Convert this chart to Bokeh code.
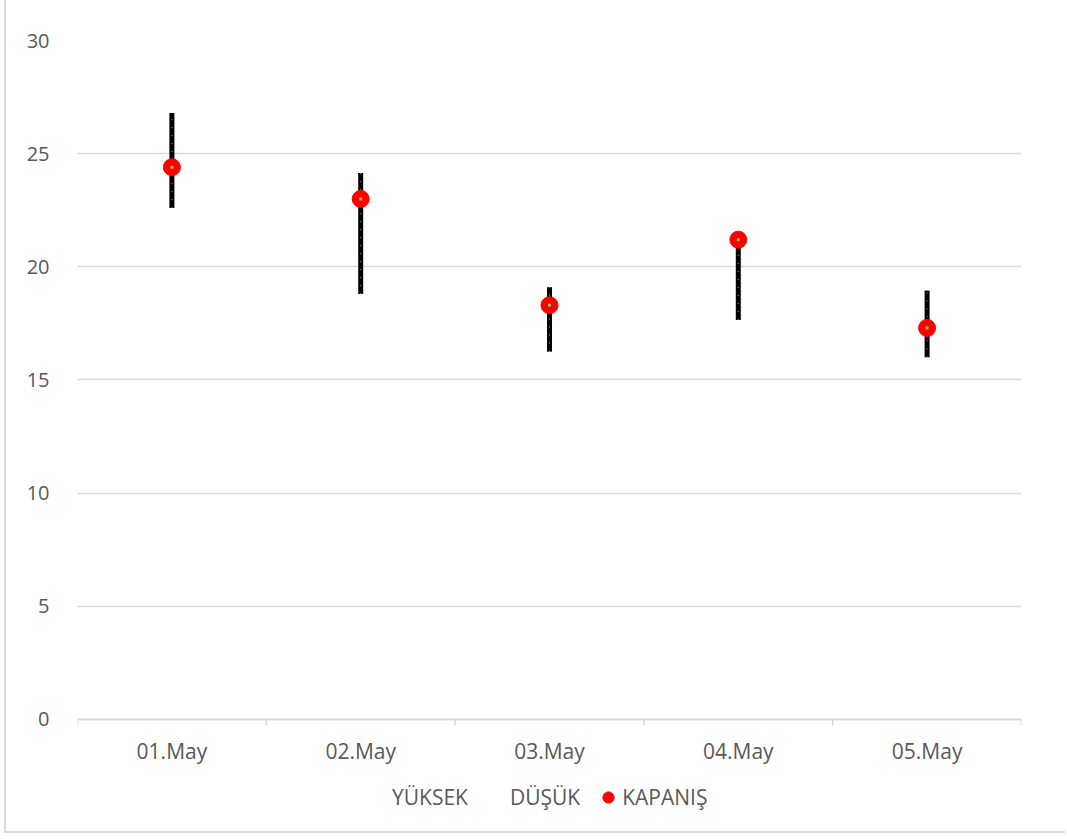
from bokeh.plotting import figure
from bokeh.models import (ColumnDataSource, FixedTicker, Legend, LegendItem,
                          Span)
from bokeh.core.properties import value
from bokeh.embed import file_html
from bokeh.resources import INLINE

# Daily high / low / close values
dates = ["01.May", "02.May", "03.May", "04.May", "05.May"]
high = [26.8, 24.15, 19.1, 21.2, 18.95]
low = [22.6, 18.8, 16.25, 17.65, 16.0]
close = [24.4, 23.0, 18.3, 21.2, 17.3]

y_ticks = [0, 5, 10, 15, 20, 25, 30]

FONT = "Open Sans"
TEXT = "#595959"
GRID = "#d9d9d9"

n = len(dates)
xs = [i + 0.5 for i in range(n)]
src = ColumnDataSource(dict(x=xs, date=dates, high=high, low=low, close=close))

# the plotting area reaches below zero so the category labels and the
# legend can sit underneath the value axis
y_bottom = -5.04
p = figure(width=1061, height=833, x_range=(0, n), y_range=(y_bottom, 30),
           output_backend="svg", toolbar_location=None, x_axis_location=None,
           min_border_left=71, min_border_right=46, min_border_top=40,
           min_border_bottom=0)
p.outline_line_color = None
p.background_fill_color = "white"
p.border_fill_color = "white"
p.margin = (0, 0, 0, 4)
p.styles = {"border-left": "2px solid #d9d9d9",
            "border-bottom": "2px solid #d9d9d9"}

# y axis: labels only, light horizontal gridlines
p.yaxis.ticker = FixedTicker(ticks=y_ticks)
p.yaxis.axis_line_color = None
p.yaxis.major_tick_line_color = None
p.yaxis.minor_tick_line_color = None
p.yaxis.major_label_standoff = 22
p.yaxis.major_label_text_font = FONT
p.yaxis.major_label_text_font_size = "20px"
p.yaxis.major_label_text_color = TEXT
p.ygrid.ticker = FixedTicker(ticks=y_ticks)
p.ygrid.grid_line_color = GRID
p.ygrid.grid_line_width = 1.5
p.xgrid.grid_line_color = None

# category axis: baseline at zero, boundary tick marks, centred labels
p.add_layout(Span(location=0, dimension="width", line_color=GRID,
                  line_width=1.5))
bounds = list(range(n + 1))
tick_len = 0.27
p.segment(x0=bounds, y0=[0] * len(bounds), x1=bounds,
          y1=[-tick_len] * len(bounds), line_color=GRID, line_width=1.5)
p.text(x="x", y=0, text="date", source=src, y_offset=32,
       text_align="center", text_baseline="middle",
       text_font=value(FONT), text_font_size="21px", text_color=TEXT)

# high-low bars
p.segment(x0="x", y0="low", x1="x", y1="high", source=src,
          line_color="black", line_width=5)
p.segment(x0="x", y0="low", x1="x", y1="high", source=src,
          line_color="white", line_width=1, line_dash="1 7", line_alpha=0.6)

# invisible renderers for the high / low legend entries
r_high = p.scatter(x="x", y="high", source=src, size=0, fill_alpha=0, line_alpha=0)
r_low = p.scatter(x="x", y="low", source=src, size=0, fill_alpha=0, line_alpha=0)

# closing values
r_close = p.scatter(x="x", y="close", source=src, size=17,
                    fill_color="red", line_color="red")
p.scatter(x="x", y="close", source=src, marker="square", size=3,
          fill_color="#9bbb59", line_color=None)

legend = Legend(items=[LegendItem(label="YÜKSEK", renderers=[r_high]),
                       LegendItem(label="DÜŞÜK", renderers=[r_low]),
                       LegendItem(label="KAPANIŞ", renderers=[r_close])],
                orientation="horizontal", location=(287, 22),
                glyph_width=28, glyph_height=28, label_standoff=-2, spacing=14,
                label_text_font=FONT, label_text_font_size="21px",
                label_text_color=TEXT, border_line_color=None,
                background_fill_alpha=0, padding=0, margin=0)
p.add_layout(legend)

open("out.html", "w").write(file_html(p, INLINE))
